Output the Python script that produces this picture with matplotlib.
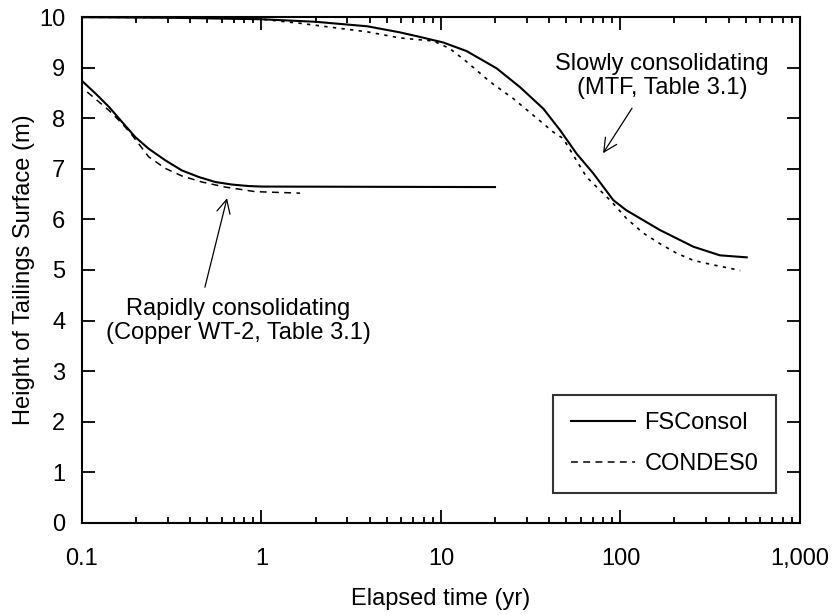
import matplotlib.pyplot as plt
from matplotlib.ticker import FixedLocator, LogLocator, NullFormatter

plt.rcParams['font.family'] = ['Liberation Sans', 'DejaVu Sans']

# Rapidly consolidating tailings (Copper WT-2)
rapid_fs_t = [0.1, 0.119, 0.141, 0.167, 0.198, 0.235, 0.291, 0.36, 0.447, 0.553,
              0.685, 0.849, 1.01, 20]
rapid_fs_h = [8.74, 8.49, 8.23, 7.93, 7.63, 7.40, 7.17, 6.97, 6.84, 6.74,
              6.69, 6.66, 6.65, 6.64]
rapid_cd_t = [0.107, 0.141, 0.167, 0.19, 0.235, 0.291, 0.36, 0.466, 0.629, 0.813,
              0.92, 1.64]
rapid_cd_h = [8.52, 8.16, 7.90, 7.67, 7.24, 7.01, 6.86, 6.74, 6.64, 6.58,
              6.55, 6.52]

# Slowly consolidating tailings (MTF)
slow_fs_t = [0.1, 0.3, 1, 2, 3.9, 5.91, 7.64, 10.3, 13.9, 20.4, 27.5, 37.2, 46,
             57, 70.6, 91.3, 108, 166, 255, 358, 505]
slow_fs_h = [10.0, 9.99, 9.96, 9.91, 9.82, 9.70, 9.61, 9.50, 9.33, 8.99, 8.62,
             8.19, 7.77, 7.30, 6.91, 6.38, 6.18, 5.79, 5.46, 5.29, 5.25]
slow_cd_t = [0.1, 0.5, 1, 1.64, 3.9, 5.91, 9.06, 11.2, 13.9, 18.8, 25.3, 32.7,
             42.2, 48, 64.7, 89.3, 108, 134, 166, 206, 255, 329, 425, 465]
slow_cd_h = [10.0, 9.99, 9.96, 9.88, 9.71, 9.59, 9.53, 9.38, 9.12, 8.72, 8.39,
             8.06, 7.73, 7.60, 6.84, 6.35, 6.02, 5.73, 5.52, 5.33, 5.19, 5.10,
             5.02, 4.99]

x_ticks = [0.1, 1, 10, 100, 1000]
x_tick_labels = ['0.1', '1', '10', '100', '1,000']
y_ticks = list(range(0, 11))

fig = plt.figure(figsize=(8.35, 6.15), dpi=100)
ax = fig.add_axes([0.0982, 0.150, 0.8598, 0.822])

solid = dict(color='black', lw=1.5, ls='-')
dashed = dict(color='black', lw=1.1, ls=(0, (4.5, 3.5)))
dotted = dict(color='black', lw=1.2, ls=(0, (2.0, 3.2)))

ax.plot(slow_fs_t, slow_fs_h, label='FSConsol', **solid)
ax.plot(slow_cd_t, slow_cd_h, **dotted)
ax.plot(rapid_fs_t, rapid_fs_h, **solid)
ax.plot(rapid_cd_t, rapid_cd_h, label='CONDES0', **dashed)

ax.set_xscale('log')
ax.set_xlim(0.1, 1000)
ax.set_ylim(0, 10)
ax.xaxis.set_major_locator(FixedLocator(x_ticks))
ax.set_xticklabels(x_tick_labels)
ax.xaxis.set_minor_locator(LogLocator(base=10, subs=range(2, 10)))
ax.xaxis.set_minor_formatter(NullFormatter())
ax.set_yticks(y_ticks)

ax.tick_params(which='both', direction='in', top=True, right=True, width=1.3)
ax.tick_params(which='major', length=9.5, labelsize=17)
ax.tick_params(axis='x', which='major', pad=18)
ax.tick_params(axis='y', which='major', pad=12)
ax.tick_params(which='minor', length=4.5)
for s in ax.spines.values():
    s.set_linewidth(1.5)

ax.set_xlabel('Elapsed time (yr)', fontsize=17, labelpad=13)
ax.set_ylabel('Height of Tailings Surface (m)', fontsize=17, labelpad=3)

# Curve annotations: text and arrow drawn separately
arrow = dict(arrowstyle='->', color='black', lw=0.9, mutation_scale=24,
             shrinkA=0, shrinkB=0)
ax.text(0.74, 3.99, 'Rapidly consolidating\n(Copper WT-2, Table 3.1)',
        ha='center', va='center', fontsize=17, linespacing=1.1)
ax.annotate('', xy=(0.643, 6.42), xytext=(0.484, 4.66), arrowprops=arrow)
ax.text(170, 8.84, 'Slowly consolidating\n(MTF, Table 3.1)',
        ha='center', va='center', fontsize=17, linespacing=1.1)
ax.annotate('', xy=(80, 7.31), xytext=(116, 8.2), arrowprops=arrow)

leg = ax.legend(loc='lower right', bbox_to_anchor=(0.9666, 0.0587), fontsize=17,
                frameon=True, fancybox=False, handlelength=2.7,
                handletextpad=0.4, labelspacing=0.8, borderpad=0.75,
                borderaxespad=0)
leg.get_frame().set_edgecolor('black')
leg.get_frame().set_linewidth(1.5)

fig.savefig('out.png', dpi=100)
